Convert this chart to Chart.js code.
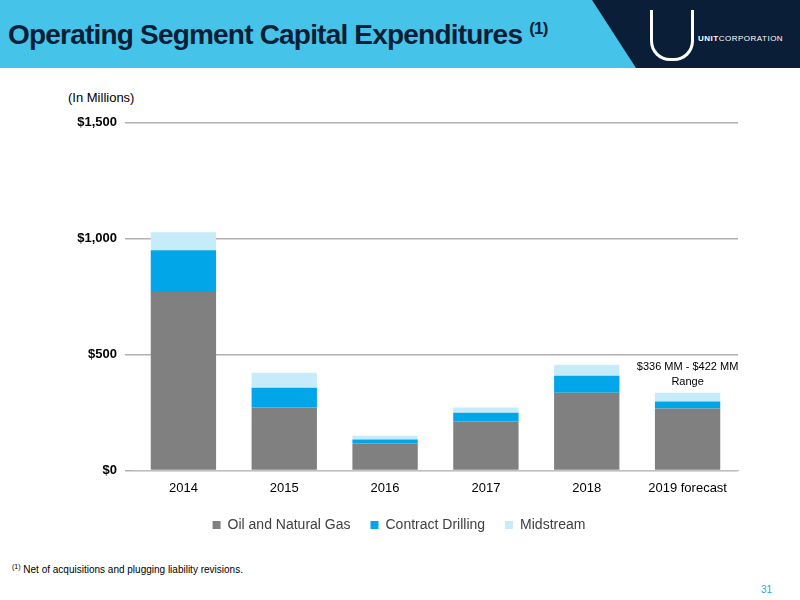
<!DOCTYPE html>
<html><head><meta charset="utf-8">
<script src="https://cdn.jsdelivr.net/npm/chart.js@4"></script>
<style>
body{margin:0;width:800px;height:600px;position:relative;background:#fff;font-family:"Liberation Sans",Arial,sans-serif;overflow:hidden}
#band{position:absolute;left:0;top:0;width:800px;height:68px;background:#45c3e8}
#dark{position:absolute;left:0;top:0;width:800px;height:68px;background:#0a1e37;clip-path:polygon(592px 0,800px 0,800px 68px,636px 68px)}
#title{position:absolute;left:8px;top:19px;font-size:28px;font-weight:bold;color:#0a1e37;letter-spacing:-0.8px}
#title sup{font-size:17px}
#logo{position:absolute;left:698px;top:34px;color:#fff;font-size:8px;letter-spacing:0.5px}
#u{position:absolute;left:650px;top:10px;width:38px;height:48px;border:3px solid #fff;border-top:none;border-radius:0 0 20px 20px}
#unit{position:absolute;left:68px;top:90px;font-size:13px;color:#000}
#foot{position:absolute;left:12px;top:563px;font-size:10px;color:#000}
#pg{position:absolute;left:761px;top:584px;font-size:10px;color:#2aa7dc}
#wrap{position:absolute;left:0;top:107px;width:800px;height:435px}
</style></head><body>
<div id="band"></div><div id="dark"></div>
<div id="title">Operating Segment Capital Expenditures <sup>(1)</sup></div>
<div id="u"></div><div id="logo"><b>UNIT</b>CORPORATION</div>
<div id="unit">(In Millions)</div>
<div id="wrap"><canvas id="c" width="800" height="435"></canvas></div>
<div id="foot"><sup style="font-size:7px">(1)</sup> Net of acquisitions and plugging liability revisions.</div>
<div id="pg">31</div>
<script>
const categories=["2014","2015","2016","2017","2018","2019 forecast"];
const oilGas=[770,271,116,211,335,267];
const drilling=[180,86,17,38,73,30];
const midstream=[78,64,17,22,48,38];
const yTicks=[0,500,1000,1500];
const annot=["$336 MM - $422 MM","Range"];
const annPlugin={id:"ann",afterDatasetsDraw(ch){
 const x=ch.scales.x.getPixelForValue(5),y=ch.scales.y.getPixelForValue(422);
 const c=ch.ctx;c.save();c.fillStyle="#000";c.font="11px 'Liberation Sans'";c.textAlign="center";
 c.fillText(annot[0],x,y-6);c.fillText(annot[1],x,y+9);c.restore();}};
new Chart(document.getElementById("c"),{type:"bar",
 data:{labels:categories,datasets:[
  {label:"Oil and Natural Gas",data:oilGas,backgroundColor:"#808080",barPercentage:0.72,categoryPercentage:0.9},
  {label:"Contract Drilling",data:drilling,backgroundColor:"#00a6e8",barPercentage:0.72,categoryPercentage:0.9},
  {label:"Midstream",data:midstream,backgroundColor:"#c6ecfa",barPercentage:0.72,categoryPercentage:0.9}]},
 options:{responsive:false,animation:false,
  layout:{padding:{left:60,right:62,top:8}},
  plugins:{legend:{position:"bottom",labels:{boxWidth:8,boxHeight:8,color:"#404040",font:{size:14,family:"Liberation Sans"},padding:20}},tooltip:{enabled:false}},
  scales:{x:{stacked:true,grid:{display:false},border:{color:"#bfbfbf"},ticks:{color:"#000",font:{size:13},padding:2}},
   y:{stacked:true,min:0,max:1500,afterBuildTicks(s){s.ticks=yTicks.map(v=>({value:v}))},afterFit(s){s.width=73},
    grid:{color:"#b0b0b0",lineWidth:1.5},border:{display:false},
    ticks:{color:"#000",font:{size:13,weight:"bold"},padding:8,callback:v=>"$"+v.toLocaleString("en-US")}}}},
 plugins:[annPlugin]});
</script></body></html>
